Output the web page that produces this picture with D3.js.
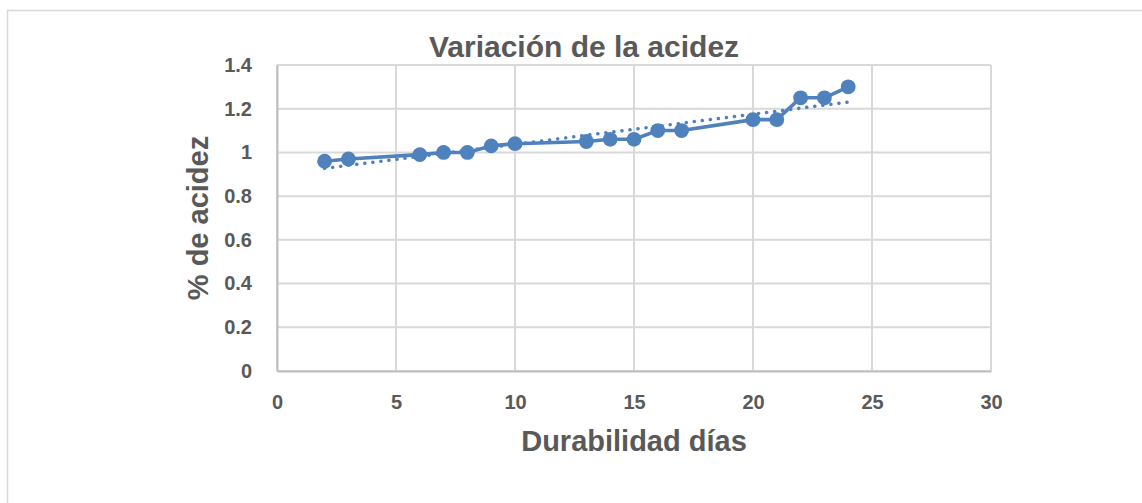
<!DOCTYPE html>
<html><head><meta charset="utf-8">
<script src="https://cdn.jsdelivr.net/npm/d3@7"></script>
<style>body{margin:0;background:#fff;} svg{display:block;}</style>
</head><body><svg id="c" width="1142" height="503"></svg>
<script>
const days = [2,3,6,7,8,9,10,13,14,15,16,17,20,21,22,23,24];
const acidity = [0.96,0.97,0.99,1.00,1.00,1.03,1.04,1.05,1.06,1.06,1.10,1.10,1.15,1.15,1.25,1.25,1.30];
const xTicks = [0,5,10,15,20,25,30];
const yTicks = [0,0.2,0.4,0.6,0.8,1,1.2,1.4];
const title = "Variación de la acidez";
const xTitle = "Durabilidad días";
const yTitle = "% de acidez";

const svg = d3.select("#c");
const W = 1142, H = 503;
const m = {l:277, r:991, t:65, b:371};
const x = d3.scaleLinear().domain([0,30]).range([m.l, m.r]);
const y = d3.scaleLinear().domain([0,1.4]).range([m.b, m.t]);
const gray = "#595959", grid = "#d9d9d9", blue = "#4F81BD";
const font = "'Liberation Sans', Arial, sans-serif";

svg.append("rect").attr("x",7.5).attr("y",10.5).attr("width",W).attr("height",H)
  .attr("fill","#fff").attr("stroke","#d9d9d9").attr("stroke-width",1.5);

// gridlines
svg.append("g").selectAll("line").data(yTicks).join("line")
  .attr("x1",m.l).attr("x2",m.r).attr("y1",d=>y(d)).attr("y2",d=>y(d))
  .attr("stroke",grid).attr("stroke-width",2);
svg.append("g").selectAll("line").data(xTicks).join("line")
  .attr("y1",m.t).attr("y2",m.b).attr("x1",d=>x(d)).attr("x2",d=>x(d))
  .attr("stroke",grid).attr("stroke-width",2);

// axes via d3
const xAxis = svg.append("g").attr("transform",`translate(0,${m.b})`)
  .call(d3.axisBottom(x).tickValues(xTicks).tickSize(0).tickPadding(24).tickFormat(d3.format("d")));
const yAxis = svg.append("g").attr("transform",`translate(${m.l},0)`)
  .call(d3.axisLeft(y).tickValues(yTicks).tickSize(0).tickPadding(25).tickFormat(d=>String(+d.toFixed(1))));
[xAxis,yAxis].forEach(a=>{
  a.select(".domain").attr("stroke","#bfbfbf").attr("stroke-width",2);
  a.selectAll("text").attr("fill",gray).attr("font-family",font).attr("font-weight","bold").attr("font-size","20px");
});

// trendline (least squares)
const n = days.length;
const mx = d3.mean(days), my = d3.mean(acidity);
let sxy=0, sxx=0;
for(let i=0;i<n;i++){ sxy+=(days[i]-mx)*(acidity[i]-my); sxx+=(days[i]-mx)**2; }
const slope = sxy/sxx, icpt = my - slope*mx;
const tx = [d3.min(days), d3.max(days)];
svg.append("line")
  .attr("x1",x(tx[0])).attr("y1",y(icpt+slope*tx[0]))
  .attr("x2",x(tx[1])).attr("y2",y(icpt+slope*tx[1]))
  .attr("stroke",blue).attr("stroke-width",3.5).attr("stroke-linecap","round")
  .attr("stroke-dasharray","0.1 8");

// series line
const pts = days.map((d,i)=>[d,acidity[i]]);
svg.append("path").datum(pts)
  .attr("d", d3.line().x(d=>x(d[0])).y(d=>y(d[1])))
  .attr("fill","none").attr("stroke",blue).attr("stroke-width",3.6).attr("stroke-linejoin","round");
svg.append("g").selectAll("circle").data(pts).join("circle")
  .attr("cx",d=>x(d[0])).attr("cy",d=>y(d[1])).attr("r",7.4).attr("fill",blue);

// titles
svg.append("text").attr("x",584).attr("y",57).attr("text-anchor","middle")
  .attr("fill",gray).attr("font-family",font).attr("font-weight","bold").attr("font-size","30px").text(title);
svg.append("text").attr("x",(m.l+m.r)/2).attr("y",451).attr("text-anchor","middle")
  .attr("fill",gray).attr("font-family",font).attr("font-weight","bold").attr("font-size","29px").text(xTitle);
svg.append("text").attr("transform",`translate(208,${(m.t+m.b)/2}) rotate(-90)`).attr("text-anchor","middle")
  .attr("fill",gray).attr("font-family",font).attr("font-weight","bold").attr("font-size","29px").text(yTitle);
</script></body></html>
